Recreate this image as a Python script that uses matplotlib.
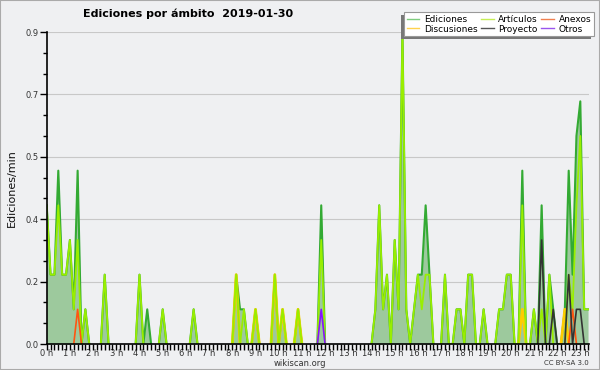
import numpy as np
import matplotlib
matplotlib.use("Agg")
import matplotlib.pyplot as plt
from matplotlib.ticker import FixedLocator, FormatStrFormatter
from matplotlib.lines import Line2D
from matplotlib.patches import Rectangle

# edits per minute, one value per 10-minute bin, 0h00 .. 23h20
ediciones = [
    0.4, 0.2, 0.2, 0.5, 0.2, 0.2,   # 0 h
    0.3, 0.1, 0.5, 0.0, 0.1, 0.0,   # 1 h
    0.0, 0.0, 0.0, 0.2, 0.0, 0.0,   # 2 h
    0.0, 0.0, 0.0, 0.0, 0.0, 0.0,   # 3 h
    0.2, 0.0, 0.1, 0.0, 0.0, 0.0,   # 4 h
    0.1, 0.0, 0.0, 0.0, 0.0, 0.0,   # 5 h
    0.0, 0.0, 0.1, 0.0, 0.0, 0.0,   # 6 h
    0.0, 0.0, 0.0, 0.0, 0.0, 0.0,   # 7 h
    0.0, 0.2, 0.1, 0.1, 0.0, 0.0,   # 8 h
    0.1, 0.0, 0.0, 0.0, 0.0, 0.2,   # 9 h
    0.0, 0.1, 0.0, 0.0, 0.0, 0.1,   # 10 h
    0.0, 0.0, 0.0, 0.0, 0.0, 0.4,   # 11 h
    0.0, 0.0, 0.0, 0.0, 0.0, 0.0,   # 12 h
    0.0, 0.0, 0.0, 0.0, 0.0, 0.0,   # 13 h
    0.0, 0.1, 0.4, 0.1, 0.2, 0.0,   # 14 h
    0.3, 0.1, 0.9, 0.1, 0.0, 0.1,   # 15 h
    0.2, 0.2, 0.4, 0.2, 0.0, 0.0,   # 16 h
    0.0, 0.2, 0.0, 0.0, 0.1, 0.1,   # 17 h
    0.0, 0.2, 0.2, 0.0, 0.0, 0.1,   # 18 h
    0.0, 0.0, 0.0, 0.1, 0.1, 0.2,   # 19 h
    0.2, 0.0, 0.0, 0.5, 0.0, 0.0,   # 20 h
    0.1, 0.0, 0.4, 0.0, 0.2, 0.1,   # 21 h
    0.0, 0.0, 0.1, 0.5, 0.2, 0.6,   # 22 h
    0.7, 0.1, 0.1,                  # 23 h
]
articulos = [
    0.4, 0.2, 0.2, 0.4, 0.2, 0.2,
    0.3, 0.1, 0.3, 0.0, 0.1, 0.0,
    0.0, 0.0, 0.0, 0.2, 0.0, 0.0,
    0.0, 0.0, 0.0, 0.0, 0.0, 0.0,
    0.2, 0.0, 0.0, 0.0, 0.0, 0.0,
    0.1, 0.0, 0.0, 0.0, 0.0, 0.0,
    0.0, 0.0, 0.1, 0.0, 0.0, 0.0,
    0.0, 0.0, 0.0, 0.0, 0.0, 0.0,
    0.0, 0.2, 0.0, 0.1, 0.0, 0.0,
    0.1, 0.0, 0.0, 0.0, 0.0, 0.2,
    0.0, 0.1, 0.0, 0.0, 0.0, 0.1,
    0.0, 0.0, 0.0, 0.0, 0.0, 0.3,
    0.0, 0.0, 0.0, 0.0, 0.0, 0.0,
    0.0, 0.0, 0.0, 0.0, 0.0, 0.0,
    0.0, 0.1, 0.4, 0.1, 0.2, 0.0,
    0.3, 0.1, 0.9, 0.1, 0.0, 0.1,
    0.2, 0.1, 0.2, 0.2, 0.0, 0.0,
    0.0, 0.2, 0.0, 0.0, 0.1, 0.1,
    0.0, 0.2, 0.2, 0.0, 0.0, 0.1,
    0.0, 0.0, 0.0, 0.1, 0.1, 0.2,
    0.2, 0.0, 0.0, 0.4, 0.0, 0.0,
    0.1, 0.0, 0.1, 0.0, 0.2, 0.0,
    0.0, 0.0, 0.0, 0.2, 0.1, 0.4,
    0.6, 0.1, 0.1,
]
# sparse series: {bin: value}
discusiones = {49: 0.2, 54: 0.1, 59: 0.2, 61: 0.1, 65: 0.1, 123: 0.1, 134: 0.1}
anexos = {8: 0.1, 136: 0.1}
proyecto = {128: 0.3, 131: 0.1, 135: 0.2, 137: 0.1, 138: 0.1}
otros = {71: 0.1}

hours = list(range(24))
hour_labels = [f"{h} h" for h in hours]

n = len(ediciones)
x = np.arange(n)


def dense(d):
    v = np.zeros(n)
    for k, val in d.items():
        v[k] = val
    return v


def hide_flat_zeros(v):
    # no line drawn along the baseline where the series stays at zero
    v = np.asarray(v, dtype=float).copy()
    z = v == 0
    left = np.r_[True, z[:-1]]
    right = np.r_[z[1:], True]
    v[z & left & right] = np.nan
    return v


bg = "#eff0f2"
fig = plt.figure(figsize=(6.0, 3.7), dpi=100, facecolor=bg)
ax = fig.add_axes([46.7 / 600, 26 / 370, 542.5 / 600, 312 / 370])
ax.set_facecolor(bg)

ax.fill_between(x, ediciones, 0, color="#9dc99d", lw=0, zorder=2)
ax.plot(x, hide_flat_zeros(ediciones), color="#33aa33", lw=1.5, zorder=3)
ax.plot(x, hide_flat_zeros(dense(discusiones)), color="#ffcc00", lw=2.0, zorder=3)
ax.plot(x, hide_flat_zeros(articulos), color="#99ee00", lw=1.3, zorder=4)
ax.plot(x, hide_flat_zeros(dense(anexos)), color="#ff5511", lw=1.2, zorder=5)
ax.plot(x, hide_flat_zeros(dense(proyecto)), color="#333333", lw=1.2, zorder=5)
ax.plot(x, hide_flat_zeros(dense(otros)), color="#8811ff", lw=1.2, zorder=5)

ax.set_xlim(0, n - 1 + 0.3)
ax.set_ylim(0, 0.9)

ax.xaxis.set_major_locator(FixedLocator([h * 6 for h in hours]))
ax.set_xticklabels(hour_labels)
ax.xaxis.set_minor_locator(FixedLocator(list(x)))
ax.yaxis.set_major_locator(FixedLocator(np.arange(6) * 0.18))
ax.yaxis.set_minor_locator(FixedLocator(np.arange(16) * 0.06))
ax.yaxis.set_major_formatter(FormatStrFormatter("%.1f"))
ax.tick_params(axis="both", which="both", direction="out", color="black",
               labelsize=6, labelcolor="#333333", width=1)
ax.tick_params(axis="x", which="both", length=4, pad=-0.5)
ax.tick_params(axis="y", which="major", length=5, pad=1)
ax.tick_params(axis="y", which="minor", length=3)
ax.grid(axis="y", color="#c8c8c8", lw=0.8, zorder=1)
ax.set_axisbelow(True)
for s in ["top", "right"]:
    ax.spines[s].set_visible(False)
for s in ["left", "bottom"]:
    ax.spines[s].set_linewidth(1.2)
    ax.spines[s].set_zorder(6)

ax.set_ylabel("Ediciones/min", fontsize=8, color="#111111", labelpad=6)

fig.text(188 / 600, 1 - 14 / 370, "Ediciones por ámbito  2019-01-30",
         ha="center", va="center", fontsize=8, fontweight="bold",
         family="DejaVu Sans")
fig.text(300 / 600, 1 - 363 / 370, "wikiscan.org", ha="center", va="center",
         fontsize=6, color="#333333")
fig.text(589 / 600, 1 - 363 / 370, "CC BY-SA 3.0", ha="right", va="center",
         fontsize=5, color="#333333")

handles = [
    Line2D([], [], color="#7fcc7f", lw=1),
    Line2D([], [], color="#ffd24d", lw=1),
    Line2D([], [], color="#c6ee55", lw=1),
    Line2D([], [], color="#555555", lw=1),
    Line2D([], [], color="#f08050", lw=1),
    Line2D([], [], color="#9955ee", lw=1),
]
labels = ["Ediciones", "Discusiones", "Artículos", "Proyecto", "Anexos", "Otros"]
leg = fig.legend(handles, labels, ncol=3, loc="upper left",
                 bbox_to_anchor=(404 / 600, 1 - 12 / 370), fontsize=6.5,
                 frameon=True, fancybox=False, edgecolor="#999999",
                 facecolor="white", framealpha=1, borderpad=0.3,
                 handlelength=1.4, handletextpad=0.5, columnspacing=0.4,
                 labelspacing=0.1, borderaxespad=0)
leg.get_frame().set_linewidth(0.8)

fig.canvas.draw()
bb = leg.get_window_extent()
fig.patches.append(Rectangle((bb.x0 - 3, bb.y0 - 3), bb.width, bb.height,
                             transform=None, facecolor="#777777",
                             edgecolor="none", zorder=4.5))
fig.patches.append(Rectangle((0, 0), 1, 1, transform=fig.transFigure,
                             fill=False, edgecolor="#aaaaaa", lw=1.5, zorder=10))

fig.savefig("out.png", dpi=100, facecolor=bg)
